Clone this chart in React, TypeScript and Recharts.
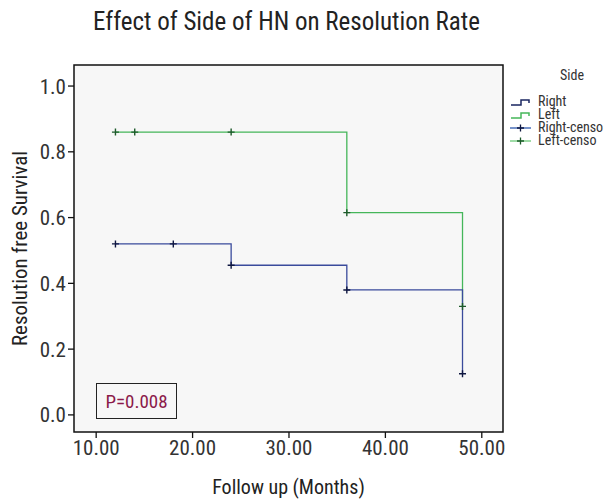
import {
  ComposedChart,
  Line,
  Scatter,
  XAxis,
  YAxis,
  ReferenceArea,
  Label,
} from "recharts";

const FONT = "'Liberation Sans Narrow', 'Roboto Condensed', 'Liberation Sans', sans-serif";

// Kaplan-Meier step points (time in months, survival)
const rightSteps = [
  { x: 12, y: 0.52 },
  { x: 24, y: 0.455 },
  { x: 36, y: 0.38 },
  { x: 48, y: 0.125 },
];
const leftSteps = [
  { x: 12, y: 0.86 },
  { x: 36, y: 0.615 },
  { x: 48, y: 0.33 },
];

// censored observations
const rightCensored = [
  { x: 12, y: 0.52 },
  { x: 18, y: 0.52 },
  { x: 24, y: 0.455 },
  { x: 36, y: 0.38 },
  { x: 48, y: 0.125 },
];
const leftCensored = [
  { x: 12, y: 0.86 },
  { x: 14, y: 0.86 },
  { x: 24, y: 0.86 },
  { x: 36, y: 0.615 },
  { x: 48, y: 0.33 },
];

const xTicks = [10, 20, 30, 40, 50];
const yTicks = [0, 0.2, 0.4, 0.6, 0.8, 1.0];
const X_DOMAIN: [number, number] = [7.7, 52.2];
const Y_DOMAIN: [number, number] = [-0.052, 1.064];

const BLUE = "#3a4b9c";
const GREEN = "#45b65a";
const BLUE_MARK = "#0e1640";
const GREEN_MARK = "#1d5a2a";

const Plus = (color: string) => (props: any) => {
  const { cx, cy } = props;
  if (cx == null || cy == null) return null;
  return (
    <path
      d={`M${cx - 3.5},${cy}H${cx + 3.5}M${cx},${cy - 3.5}V${cy + 3.5}`}
      stroke={color}
      strokeWidth={1.4}
      fill="none"
    />
  );
};

const legendItems = [
  { name: "Right", color: "#1a2660", mark: "", kind: "step" },
  { name: "Left", color: GREEN, mark: "", kind: "step" },
  { name: "Right-censo", color: "#4a6fb8", mark: BLUE_MARK, kind: "censor" },
  { name: "Left-censo", color: "#7fd08a", mark: GREEN_MARK, kind: "censor" },
];

function SideLegend() {
  return (
    <div
      style={{
        position: "absolute",
        left: 508,
        top: 69,
        fontFamily: FONT,
        fontSize: 14,
        color: "#333",
        lineHeight: "13px",
      }}
    >
      <div style={{ marginLeft: 52, marginBottom: 13 }}>Side</div>
      {legendItems.map((it) => (
        <div key={it.name} style={{ display: "flex", alignItems: "center", height: 13 }}>
          <svg width={30} height={13}>
            {it.kind === "step" ? (
              <path d="M3,10H13V5H21V8" stroke={it.color} strokeWidth={1.5} fill="none" />
            ) : (
              <g>
                <path d="M2,7H23" stroke={it.color} strokeWidth={1.5} />
                <path d="M9,7H16M12.5,3.5V10.5" stroke={it.mark} strokeWidth={1.3} />
              </g>
            )}
          </svg>
          <span>{it.name}</span>
        </div>
      ))}
    </div>
  );
}

export default function App() {
  return (
    <div
      style={{
        position: "absolute",
        left: 0,
        top: 0,
        width: 609,
        height: 500,
        background: "#fff",
        fontFamily: FONT,
      }}
    >
      <div
        style={{
          position: "absolute",
          left: 0,
          width: 573,
          top: 7,
          textAlign: "center",
          fontSize: 25,
          color: "#222",
        }}
      >
        Effect of Side of HN on Resolution Rate
      </div>
      <ComposedChart
        width={609}
        height={500}
        margin={{ top: 65, right: 106, bottom: 28, left: 0 }}
      >
        <ReferenceArea
          x1={X_DOMAIN[0]}
          x2={X_DOMAIN[1]}
          y1={Y_DOMAIN[0]}
          y2={Y_DOMAIN[1]}
          fill="#f7f7f7"
          fillOpacity={1}
          stroke="#111"
          strokeWidth={1.5}
          ifOverflow="visible"
        />
        <XAxis
          type="number"
          dataKey="x"
          domain={X_DOMAIN}
          ticks={xTicks}
          allowDataOverflow
          tickFormatter={(v: number) => v.toFixed(2)}
          axisLine={false}
          tickSize={6}
          tickLine={{ stroke: "#111", strokeWidth: 1.3 }}
          tick={{ fill: "#333", fontSize: 21, fontFamily: FONT }}
          height={40}
        >
          <Label
            value="Follow up (Months)"
            position="bottom"
            offset={8}
            style={{ fill: "#222", fontSize: 20, fontFamily: FONT }}
          />
        </XAxis>
        <YAxis
          type="number"
          dataKey="y"
          domain={Y_DOMAIN}
          ticks={yTicks}
          allowDataOverflow
          tickFormatter={(v: number) => v.toFixed(1)}
          axisLine={false}
          tickSize={6}
          tickLine={{ stroke: "#111", strokeWidth: 1.3 }}
          tick={{ fill: "#333", fontSize: 21, fontFamily: FONT }}
          width={74}
        >
          <Label
            value="Resolution free Survival"
            angle={-90}
            position="insideLeft"
            offset={20}
            style={{ fill: "#222", fontSize: 21, fontFamily: FONT, textAnchor: "middle" }}
          />
        </YAxis>
        <Line
          data={leftSteps}
          dataKey="y"
          type="stepAfter"
          stroke={GREEN}
          strokeWidth={1.3}
          dot={false}
          activeDot={false}
          isAnimationActive={false}
          name="Left"
        />
        <Line
          data={rightSteps}
          dataKey="y"
          type="stepAfter"
          stroke={BLUE}
          strokeWidth={1.3}
          dot={false}
          activeDot={false}
          isAnimationActive={false}
          name="Right"
        />
        <Scatter
          data={leftCensored}
          dataKey="y"
          shape={Plus(GREEN_MARK)}
          isAnimationActive={false}
          name="Left-censo"
        />
        <Scatter
          data={rightCensored}
          dataKey="y"
          shape={Plus(BLUE_MARK)}
          isAnimationActive={false}
          name="Right-censo"
        />
      </ComposedChart>
      <SideLegend />
      <div
        style={{
          position: "absolute",
          left: 96,
          top: 383,
          width: 81,
          height: 36,
          border: "1px solid #222",
          boxSizing: "border-box",
          display: "flex",
          alignItems: "center",
          justifyContent: "center",
          color: "#8b1a4a",
          fontSize: 19,
        }}
      >
        P=0.008
      </div>
    </div>
  );
}
